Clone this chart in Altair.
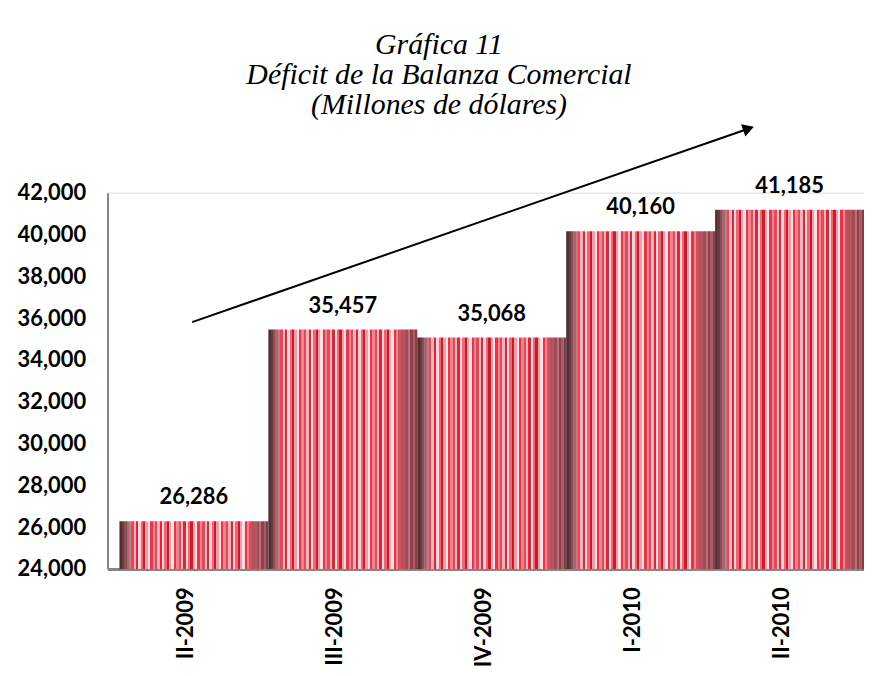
import altair as alt
import pandas as pd

# ---- data ----
periods = ["II-2009", "III-2009", "IV-2009", "I-2010", "II-2010"]
deficit = [26286, 35457, 35068, 40160, 41185]
y_ticks = [24000, 26000, 28000, 30000, 32000, 34000, 36000, 38000, 40000, 42000]
title_lines = ["Gráfica 11", "Déficit de la Balanza Comercial", "(Millones de dólares)"]

df = pd.DataFrame({"periodo": periods, "deficit": deficit})

# ---- striped fill (style only) ----
left_edge = ["#4e3034", "#6a3a40", "#8a5058", "#a86670", "#c07a84"]
middle = ["#e04a5a", "#f6b0b8", "#d42a3a", "#fbd2d7", "#e86a78", "#c81b2c",
          "#f39aa4", "#fde0e3", "#dc3a4a", "#f08290"]
right_edge = ["#d05260", "#c04a58", "#b25862", "#a24a55", "#b8707a", "#94404a",
              "#a85c66", "#8a3c45"]
stripe_colors = left_edge + middle * 5 + right_edge
stops = []
n = len(stripe_colors)
for i, c in enumerate(stripe_colors):
    stops.append(alt.GradientStop(offset=i / n, color=c))
    stops.append(alt.GradientStop(offset=(i + 1) / n, color=c))
stripes = alt.Gradient(gradient="linear", stops=stops, x1=0, x2=1, y1=0, y2=0)

LABEL_FONT = "Lato"
LABEL_SIZE = 22

x_enc = alt.X(
    "periodo:N",
    sort=periods,
    scale=alt.Scale(paddingInner=0, paddingOuter=0.04, align=1),
    axis=alt.Axis(
        title=None, labelAngle=-90, labelFont=LABEL_FONT, labelFontWeight="bold",
        labelFontSize=LABEL_SIZE, labelColor="black", labelPadding=18, labelOffset=-8,
        ticks=False, domainColor="#868686", domainWidth=3,
    ),
)
y_scale = alt.Scale(domain=[24000, 42000], zero=False, nice=False)
y_enc = alt.Y(
    "deficit:Q",
    scale=y_scale,
    axis=alt.Axis(
        title=None, values=y_ticks, format=",.0f", labelFont=LABEL_FONT,
        labelFontWeight="bold", labelFontSize=LABEL_SIZE, labelColor="black",
        labelPadding=22, ticks=False, grid=False, domainColor="#868686",
        domainWidth=2,
    ),
)

base = alt.Chart(df)

bars = base.mark_bar(color=stripes).encode(
    x=x_enc,
    y=y_enc,
    y2=alt.datum(24000),
)

labels = base.mark_text(
    font=LABEL_FONT, fontWeight="bold", fontSize=LABEL_SIZE, color="black",
    baseline="bottom", dy=-12,
).encode(
    x=alt.X("periodo:N", sort=periods),
    y=alt.Y("deficit:Q", scale=y_scale),
    text=alt.Text("deficit:Q", format=",.0f"),
)

one = alt.Chart(pd.DataFrame({"k": [0]}))
arrow_line = one.mark_rule(color="black", strokeWidth=2).encode(
    x=alt.value(85), y=alt.value(130), x2=alt.value(643), y2=alt.value(-64),
)
arrow_head = one.mark_point(
    shape="triangle-right", filled=True, color="black", size=170, opacity=1,
    angle=340.9,
).encode(x=alt.value(644), y=alt.value(-64.5))

title = one.mark_text(
    font="Liberation Serif", fontStyle="italic", fontWeight="normal",
    fontSize=30, lineHeight=30, color="black", align="center",
    baseline="alphabetic",
).encode(x=alt.value(333), y=alt.value(-139), text=alt.value(title_lines))

chart = alt.layer(bars, labels, arrow_line, arrow_head, title).properties(
    width=760,
    height=378,
    autosize=alt.AutoSizeParams(type="none"),
    padding={"left": 100, "top": 184, "right": 0, "bottom": 100},
).configure_view(stroke=None).configure(background="white")

chart.save("out.html", embed_options={"renderer": "svg", "actions": False})
